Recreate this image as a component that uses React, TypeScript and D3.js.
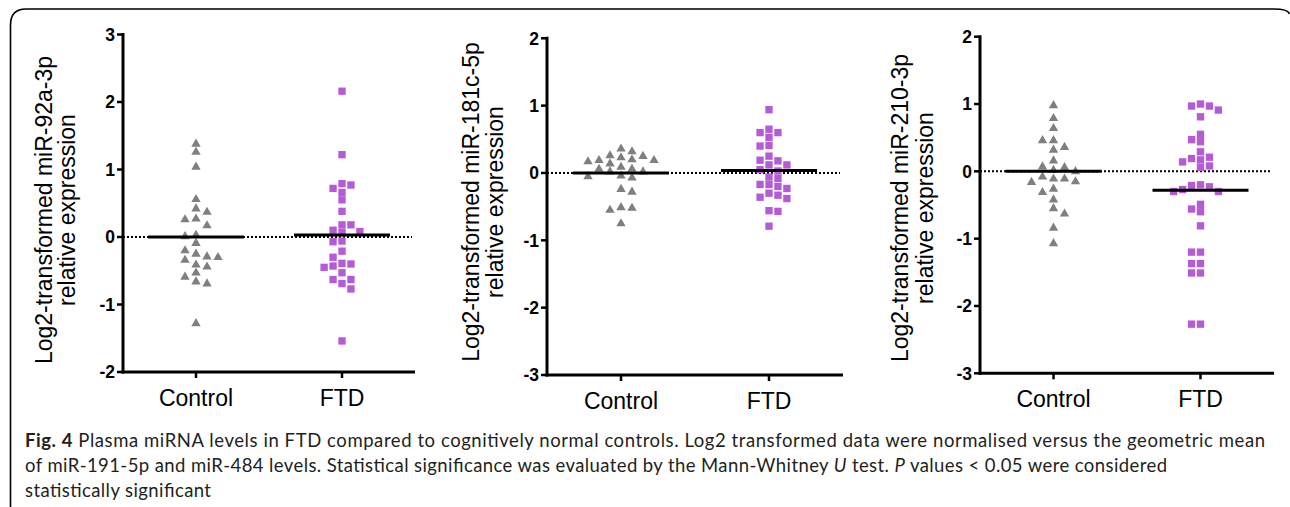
import React from 'react';
import * as d3 from 'd3';

const groups = ['Control', 'FTD'];

// miR-92a-3p
const mir92Control = [1.39, 1.27, 1.05, 0.57, 0.43, 0.38, 0.28, 0.27, 0.18, 0.04, 0.02, -0.08, -0.19, -0.28, -0.24, -0.33, -0.29, -0.43, -0.40, -0.52, -0.58, -0.65, -0.68, -1.27];
const mir92FTD = [2.16, 1.22, 0.77, 0.79, 0.72, 0.66, 0.55, 0.38, 0.18, 0.18, 0.10, 0.07, 0.08, -0.07, -0.06, -0.21, -0.30, -0.39, -0.43, -0.40, -0.45, -0.53, -0.63, -0.69, -0.63, -0.77, -1.54];
const mir92Centre = [0, 0.03];

// miR-181c-5p
const mir181Control = [0.37, 0.27, 0.24, 0.20, 0.33, 0.18, 0.20, 0.21, 0.26, 0.15, 0.10, 0.07, 0.03, -0.04, -0.06, -0.03, 0.03, 0.07, -0.27, -0.23, -0.50, -0.54, -0.51, -0.74];
const mir181FTD = [0.94, 0.60, 0.53, 0.60, 0.65, 0.40, 0.41, 0.25, 0.18, 0.12, 0.12, 0.19, 0.03, 0.05, -0.08, -0.06, -0.23, -0.17, -0.20, -0.17, -0.33, -0.38, -0.36, -0.30, -0.56, -0.57, -0.79];
const mir181Centre = [0, 0.035];

// miR-210-3p
const mir210Control = [0.99, 0.80, 0.65, 0.47, 0.47, 0.33, 0.37, 0.17, 0.08, 0.03, 0.07, 0.01, -0.10, -0.14, -0.07, -0.15, -0.10, -0.25, -0.30, -0.41, -0.54, -0.62, -0.83, -1.06];
const mir210FTD = [0.97, 0.91, 1.00, 0.97, 0.81, 0.55, 0.47, 0.44, 0.29, 0.19, 0.14, 0.17, 0.21, 0.06, 0.08, -0.20, -0.23, -0.30, -0.30, -0.27, -0.21, -0.49, -0.60, -0.56, -0.81, -1.20, -1.20, -1.37, -1.37, -1.51, -1.51, -2.27, -2.27];
const mir210Centre = [0, -0.28];

const ticks92 = [-2, -1, 0, 1, 2, 3];
const ticksOther = [-3, -2, -1, 0, 1, 2];

const titles = ['miR-92a-3p', 'miR-181c-5p', 'miR-210-3p'];

// layout of the three panels (pixels)
const panels = [
  { ax: 123, top: 34.5, bottom: 372, right: 415, domain: [-2, 3], ticks: ticks92, t1: 52, t2: 75, tc: 210, control: mir92Control, ftd: mir92FTD, centre: mir92Centre },
  { ax: 547, top: 38.3, bottom: 375, right: 843, domain: [-3, 2], ticks: ticksOther, t1: 479, t2: 503, tc: 202, control: mir181Control, ftd: mir181FTD, centre: mir181Centre },
  { ax: 980, top: 36.7, bottom: 373.3, right: 1274, domain: [-3, 2], ticks: ticksOther, t1: 908, t2: 933, tc: 208, control: mir210Control, ftd: mir210FTD, centre: mir210Centre },
];

const grey = '#7f7f7f';
const purple = '#b65bd8';

// simple column scatter layout: spread points sideways when they would overlap
function swarm(values: number[], y: (v: number) => number, half: number, h: number) {
  const order = values.map((v, i) => i).sort((a, b) => values[b] - values[a]);
  const placed: { dx: number; py: number }[] = [];
  const out: number[] = new Array(values.length).fill(0);
  order.forEach((i, n) => {
    const py = y(values[i]);
    const sign = n % 2 ? 1 : -1;
    for (let k = 0; k < 40; k++) {
      const cands = k === 0 ? [0] : [sign * k * half, -sign * k * half];
      const hit = cands.find(dx => placed.every(p => Math.abs(p.dx - dx) >= 2 * half - 0.01 || Math.abs(p.py - py) >= h));
      if (hit !== undefined) {
        placed.push({ dx: hit, py });
        out[i] = hit;
        break;
      }
    }
  });
  return out;
}

const tri = d3.symbol().type(d3.symbolTriangle).size(38)();
const sq = d3.symbol().type(d3.symbolSquare).size(54)();

function Panel({ p, title }: { p: typeof panels[0]; title: string }) {
  const y = d3.scaleLinear().domain(p.domain).range([p.bottom, p.top]);
  const x = d3.scalePoint().domain(groups).range([p.ax, p.right]).padding(0.5);
  const cx = x('Control')!;
  const fx = x('FTD')!;
  const cOff = swarm(p.control, y, 5.5, 8);
  const fOff = swarm(p.ftd, y, 4.47, 7.4);
  const font = '"Liberation Sans", Arial, Helvetica, sans-serif';
  return (
    <g fontFamily={font}>
      <text transform={`translate(${p.t1},${p.tc}) rotate(-90)`} textAnchor="middle" fontSize={23}>
        {`Log2-transformed ${title}`}
      </text>
      <text transform={`translate(${p.t2},${p.tc}) rotate(-90)`} textAnchor="middle" fontSize={23}>
        relative expression
      </text>
      {/* zero reference */}
      <line x1={p.ax} x2={p.right - 3} y1={y(0)} y2={y(0)} stroke="#000" strokeWidth={2} strokeDasharray="2,2" />
      {/* y axis */}
      <line x1={p.ax} x2={p.ax} y1={p.top - 1.5} y2={p.bottom + 1.5} stroke="#000" strokeWidth={3} />
      {p.ticks.map(t => (
        <g key={t}>
          <line x1={p.ax - 6} x2={p.ax} y1={y(t)} y2={y(t)} stroke="#000" strokeWidth={2.5} />
          <text x={p.ax - 8} y={y(t)} dy="0.36em" textAnchor="end" fontSize={17.5} fontWeight="bold">{t}</text>
        </g>
      ))}
      {/* x axis */}
      <line x1={p.ax - 1.5} x2={p.right} y1={p.bottom} y2={p.bottom} stroke="#000" strokeWidth={3} />
      {groups.map(g => (
        <g key={g}>
          <line x1={x(g)} x2={x(g)} y1={p.bottom} y2={p.bottom + 6} stroke="#000" strokeWidth={2.5} />
          <text x={x(g)} y={p.bottom + 34} textAnchor="middle" fontSize={23}>{g}</text>
        </g>
      ))}
      {p.control.map((v, i) => (
        <path key={'c' + i} d={tri} transform={`translate(${cx + cOff[i]},${y(v) + 0.8})`} fill={grey} />
      ))}
      {p.ftd.map((v, i) => (
        <path key={'f' + i} d={sq} transform={`translate(${fx + fOff[i]},${y(v)})`} fill={purple} />
      ))}
      {p.centre.map((v, i) => (
        <line key={'m' + i} x1={x(groups[i])! - 48} x2={x(groups[i])! + 48} y1={y(v)} y2={y(v)} stroke="#000" strokeWidth={3} />
      ))}
    </g>
  );
}

export default function App() {
  const cap = 'Lato, "Open Sans", sans-serif';
  return (
    <svg width={1290} height={507} style={{ position: 'absolute', left: 0, top: 0, background: '#fff' }}>
      <path d="M10.5,507 V25 Q10.5,9 26,9 H1274 Q1288,9 1289.5,14" fill="none" stroke="#000" strokeWidth={1.6} />
      {panels.map((p, i) => <Panel key={i} p={p} title={titles[i]} />)}
      <g fontFamily={cap} fontSize={18.5} fill="#231f20">
        <text x={25} y={447} textLength={1240} lengthAdjust="spacing">
          <tspan fontWeight="bold">Fig. 4</tspan> Plasma miRNA levels in FTD compared to cognitively normal controls. Log2 transformed data were normalised versus the geometric mean
        </text>
        <text x={25} y={472} textLength={1142} lengthAdjust="spacing">
          of miR-191-5p and miR-484 levels. Statistical significance was evaluated by the Mann-Whitney <tspan fontStyle="italic">U</tspan> test. <tspan fontStyle="italic">P</tspan> values {'<'} 0.05 were considered
        </text>
        <text x={25} y={497} textLength={186} lengthAdjust="spacing">statistically significant</text>
      </g>
    </svg>
  );
}
